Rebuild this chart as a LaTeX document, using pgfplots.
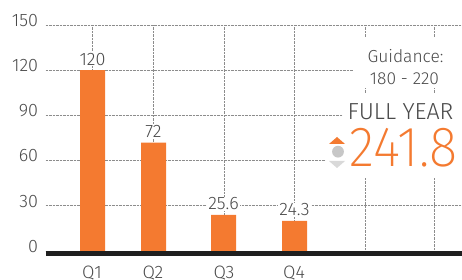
\documentclass[border=0pt]{standalone}
\usepackage{fontspec}
\setmainfont{Fira Sans}[UprightFont=* Light]
\newfontfamily\thinfont{Fira Sans}[UprightFont=* ExtraLight]
\usepackage{pgfplots}
\usepackage{pgfplotstable}
\pgfplotsset{compat=1.18}
\definecolor{bar}{HTML}{F47A30}
\definecolor{txt}{HTML}{4A4A4A}
\definecolor{grd}{HTML}{8C8C8C}

\pgfplotstableread{
x h label
92.5 120 120
153.5 72 72
223.5 24 25.6
294.5 20 24.3
}\data

\begin{document}
\begin{tikzpicture}[x=1pt,y=1pt]
\path[use as bounding box] (0,0) rectangle (462,280);
\begin{axis}[at={(45.7pt,29pt)}, anchor=south west, scale only axis,
  width=416.3pt, height=226pt,
  xmin=45.7, xmax=462, ymin=0, ymax=150, clip=false,
  axis line style={draw=none}, tick style={draw=none},
  xtick={92,153,224,294,365,434}, xticklabels={Q1,Q2,Q3,Q4,{},{}},
  ytick={0,30,...,150},
  grid=major, grid style={densely dotted, grd, line width=0.7pt},
  /pgf/number format/assume math mode=true,
  ticklabel style={font=\fontsize{18}{20}\selectfont, text=txt, inner sep=0pt},
  yticklabel style={anchor=base east, xshift=-7.4pt, yshift=-1.4pt},
  xticklabel style={anchor=base, yshift=-23pt},
  ybar, bar width=25pt,
  nodes near coords, point meta=explicit symbolic,
  every node near coord/.append style={anchor=base, yshift=5pt, fill=white, inner sep=1pt,
     font=\fontsize{18}{20}\selectfont, text=txt},
]
\addplot[fill=bar, draw=none] table[x=x, y=h, meta=label]{\data};
\draw[line width=4.6pt, black!88] (axis cs:45.7,-1.5) -- (axis cs:462,-1.5);
\end{axis}
\fill[white] (353,192) rectangle (462,243);
\fill[white] (343,153) rectangle (462,187);
\fill[white] (326,103) rectangle (462,153);
\node[anchor=base, inner sep=0pt, text=txt, font=\fontsize{17.4}{20}\selectfont] at (405.5,217.3) {Guidance:};
\node[anchor=base, inner sep=0pt, text=txt, font=\fontsize{17.4}{20}\selectfont] at (404.5,195) {180 - 220};
\node[anchor=base, inner sep=0pt, text=txt, font=\fontsize{23.2}{26}\selectfont] at (400.5,160) {FULL YEAR};
\node[anchor=base, inner sep=0pt, text=bar, font=\thinfont\fontsize{56.6}{60}\selectfont] at (403.5,113.5) {\scalebox{0.93}[1]{241.8}};
\fill[bar] (329,136) -- (345,136) -- (337,143) -- cycle;
\fill[black!22] (338,128.3) circle (5.9);
\fill[black!15] (329,119) -- (345,119) -- (337,112) -- cycle;
\end{tikzpicture}
\end{document}
